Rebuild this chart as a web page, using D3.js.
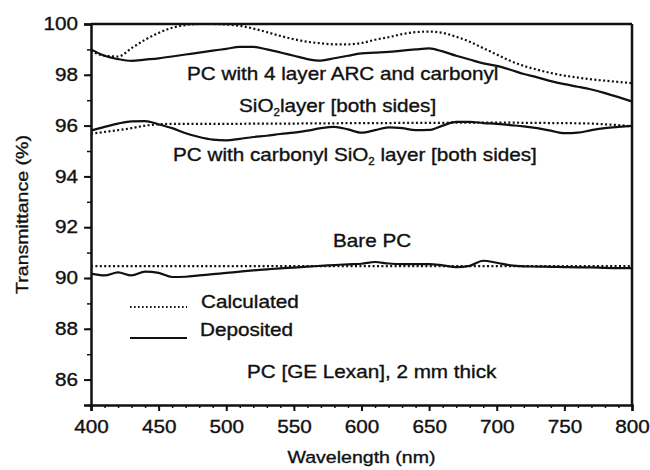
<!DOCTYPE html>
<html>
<head>
<meta charset="utf-8">
<script src="https://cdn.jsdelivr.net/npm/d3@7"></script>
<style>
  body { margin: 0; background: #fff; }
  svg { display: block; font-family: "Liberation Sans", Arial, sans-serif; }
  svg text { stroke: #111; stroke-width: 0.35px; }
</style>
</head>
<body>
<div id="chart"></div>
<script>
// wavelength grid (nm)
const wavelengths = d3.range(400, 801, 10);

// PC with 4 layer ARC and carbonyl SiO2 layer
const arcDeposited = [99.0, 98.75, 98.62, 98.55, 98.6, 98.65, 98.72, 98.8, 98.87, 98.95,
  99.02, 99.1, 99.1, 99.0, 98.88, 98.75, 98.62, 98.56, 98.65, 98.75,
  98.84, 98.87, 98.9, 98.95, 99.0, 99.04, 98.92, 98.75, 98.6, 98.45,
  98.35, 98.2, 98.03, 97.9, 97.75, 97.63, 97.53, 97.42, 97.28, 97.12, 96.95];
const arcCalculated = [98.95, 98.75, 98.72, 99.05, 99.38, 99.65, 99.85, 99.96, 100.0, 100.0,
  99.98, 99.93, 99.82, 99.68, 99.53, 99.4, 99.3, 99.24, 99.2, 99.2,
  99.25, 99.38, 99.48, 99.6, 99.68, 99.7, 99.65, 99.5, 99.3, 99.05,
  98.8, 98.55, 98.35, 98.2, 98.07, 97.97, 97.89, 97.82, 97.77, 97.72, 97.67];

// PC with carbonyl SiO2 layer
const carbonylDeposited = [95.8, 95.95, 96.08, 96.17, 96.18, 96.05, 95.9, 95.7, 95.55, 95.45,
  95.42, 95.48, 95.55, 95.6, 95.67, 95.72, 95.8, 95.9, 95.95, 95.85,
  95.72, 95.82, 95.93, 95.9, 95.82, 95.83, 96.0, 96.15, 96.15, 96.1,
  96.07, 96.02, 95.97, 95.9, 95.8, 95.7, 95.72, 95.82, 95.9, 95.95, 95.99];
const carbonylCalculated = [95.68, 95.75, 95.82, 95.9, 96.0, 96.05, 96.07, 96.07, 96.07, 96.07,
  96.07, 96.07, 96.08, 96.08, 96.08, 96.08, 96.09, 96.09, 96.09, 96.1,
  96.1, 96.1, 96.1, 96.11, 96.11, 96.11, 96.11, 96.12, 96.12, 96.12,
  96.12, 96.12, 96.11, 96.11, 96.1, 96.1, 96.09, 96.08, 96.05, 96.02, 95.97];

// Bare PC
const bareDeposited = [90.17, 90.1, 90.22, 90.1, 90.25, 90.2, 90.04, 90.05, 90.1, 90.15,
  90.2, 90.25, 90.3, 90.34, 90.38, 90.41, 90.45, 90.48, 90.51, 90.54,
  90.56, 90.63, 90.57, 90.55, 90.55, 90.55, 90.5, 90.43, 90.48, 90.68,
  90.6, 90.5, 90.46, 90.45, 90.44, 90.43, 90.42, 90.42, 90.4, 90.39, 90.39];
const bareCalculated = [90.47, 90.47, 90.47, 90.47, 90.47, 90.47, 90.47, 90.47, 90.47, 90.47,
  90.47, 90.47, 90.47, 90.47, 90.47, 90.47, 90.47, 90.47, 90.47, 90.47,
  90.47, 90.47, 90.47, 90.47, 90.47, 90.47, 90.47, 90.47, 90.47, 90.47,
  90.47, 90.47, 90.47, 90.47, 90.47, 90.47, 90.47, 90.47, 90.47, 90.47, 90.47];

const xTicks = d3.range(400, 801, 50);
const xMinor = d3.range(400, 801, 10);
const yTicks = d3.range(86, 101, 2);
const yMinor = d3.range(85, 101, 1);

const width = 650, height = 470;
const margin = { top: 24, right: 18, bottom: 65, left: 91 };
const ink = '#111';
const stretch = 'scale(1.15,1)';

const svg = d3.select('#chart').append('svg')
  .attr('width', width)
  .attr('height', height);

const x = d3.scaleLinear().domain([400, 800]).range([margin.left, width - margin.right]);
const y = d3.scaleLinear().domain([85, 100]).range([height - margin.bottom, margin.top]);

// minor ticks
svg.append('g')
  .attr('transform', `translate(0,${y(85)})`)
  .call(d3.axisBottom(x).tickValues(xMinor).tickSize(3).tickFormat(''))
  .call(g => g.select('.domain').remove())
  .selectAll('line').attr('stroke', ink).attr('stroke-width', 1.5);
svg.append('g')
  .attr('transform', `translate(${x(400)},0)`)
  .call(d3.axisLeft(y).tickValues(yMinor).tickSize(4).tickFormat(''))
  .call(g => g.select('.domain').remove())
  .selectAll('line').attr('stroke', ink).attr('stroke-width', 1.5);

// major axes
const xAxis = svg.append('g')
  .attr('transform', `translate(0,${y(85)})`)
  .call(d3.axisBottom(x).tickValues(xTicks).tickSize(6).tickPadding(9));
const yAxis = svg.append('g')
  .attr('transform', `translate(${x(400)},0)`)
  .call(d3.axisLeft(y).tickValues(yTicks).tickSize(7).tickPadding(4.3));

[xAxis, yAxis].forEach(ax => {
  ax.select('.domain').attr('stroke', ink).attr('stroke-width', 2.5);
  ax.selectAll('.tick line').attr('stroke', ink).attr('stroke-width', 2);
  ax.selectAll('.tick text')
    .attr('fill', ink)
    .style('font-size', '18px')
    .attr('transform', stretch);
});

// top and right frame
svg.append('line')
  .attr('x1', x(400)).attr('x2', x(800))
  .attr('y1', y(100)).attr('y2', y(100))
  .attr('stroke', ink).attr('stroke-width', 2.5);
svg.append('line')
  .attr('x1', x(800)).attr('x2', x(800))
  .attr('y1', y(100)).attr('y2', y(85))
  .attr('stroke', ink).attr('stroke-width', 2.5);

// curves
const line = d3.line()
  .x((d, i) => x(wavelengths[i]))
  .y(d => y(d))
  .curve(d3.curveMonotoneX);

const series = [
  { values: arcCalculated, dashed: true },
  { values: carbonylCalculated, dashed: true },
  { values: bareCalculated, dashed: true },
  { values: arcDeposited, dashed: false },
  { values: carbonylDeposited, dashed: false },
  { values: bareDeposited, dashed: false }
];

svg.append('g').selectAll('path')
  .data(series)
  .join('path')
    .attr('d', d => line(d.values))
    .attr('fill', 'none')
    .attr('stroke', ink)
    .attr('stroke-width', d => d.dashed ? 2.2 : 2.2)
    .attr('stroke-dasharray', d => d.dashed ? '2,2.4' : null);

// labels
function label(px, py, parts, size = 18) {
  const t = svg.append('text')
    .attr('transform', `translate(${px},${py}) ${stretch}`)
    .attr('fill', ink)
    .style('font-size', size + 'px');
  parts.forEach(p => {
    if (typeof p === 'string') {
      t.append('tspan').text(p);
    } else {
      t.append('tspan').text(p.sub).style('font-size', '10px').attr('dy', 4);
      t.append('tspan').text(p.after).attr('dy', -4);
    }
  });
  return t;
}

label(187, 79.5, ['PC with 4 layer ARC and carbonyl']);
label(239, 111.5, ['SiO', { sub: '2', after: 'layer [both sides]' }]);
label(173, 161, ['PC with carbonyl SiO', { sub: '2', after: ' layer [both sides]' }]);
label(333, 247, ['Bare PC']);
label(201, 308, ['Calculated']);
label(200, 336, ['Deposited']);
label(247, 378, ['PC [GE Lexan], 2 mm thick']);

// legend samples
svg.append('line')
  .attr('x1', 130).attr('x2', 187).attr('y1', 307).attr('y2', 307)
  .attr('stroke', ink).attr('stroke-width', 1.8).attr('stroke-dasharray', '1.6,2.4');
svg.append('line')
  .attr('x1', 130).attr('x2', 187).attr('y1', 338).attr('y2', 338)
  .attr('stroke', ink).attr('stroke-width', 2);

// axis titles
svg.append('text')
  .attr('transform', `translate(${(x(400) + x(800)) / 2},463) ${stretch}`)
  .attr('text-anchor', 'middle')
  .attr('fill', ink)
  .style('font-size', '17px')
  .text('Wavelength (nm)');
svg.append('text')
  .attr('transform', `translate(28,${(y(85) + y(100)) / 2}) rotate(-90) ${stretch}`)
  .attr('text-anchor', 'middle')
  .attr('fill', ink)
  .style('font-size', '17px')
  .text('Transmittance (%)');
</script>
</body>
</html>
